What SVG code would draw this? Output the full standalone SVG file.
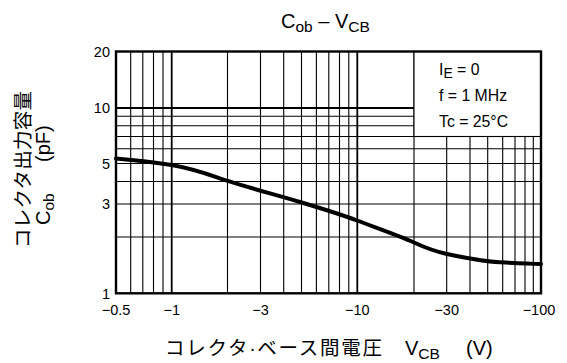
<svg xmlns="http://www.w3.org/2000/svg" width="567" height="363" viewBox="0 0 567 363">
<style>
.g{stroke:#000;stroke-width:1.1;fill:none}
.gt{stroke:#000;stroke-width:1.8;fill:none}
.t{font-family:"Liberation Sans",Arial,sans-serif;fill:#000}
.tick{font-size:14.5px}
.lab{font-size:20px}
.jp{font-family:"Noto Sans CJK JP","Liberation Sans",sans-serif;fill:#000;font-size:19.5px}
.leg{font-size:15.8px}
</style>
<rect width="567" height="363" fill="#fff"/>
<g id="grid">
<path class="g" d="M130.7,51.5V293.3M142.8,51.5V293.3M153.5,51.5V293.3M163,51.5V293.3M227.5,51.5V293.3M260.5,51.5V293.3M283.7,51.5V293.3M301.5,51.5V293.3M316.4,51.5V293.3M328.8,51.5V293.3M339.5,51.5V293.3M348.8,51.5V293.3M414,51.5V293.3M446.7,51.5V293.3M470,51.5V293.3M487.7,51.5V293.3M502.7,51.5V293.3M515,51.5V293.3M525,51.5V293.3M533.3,51.5V293.3"/>
<path class="g" d="M116,237H541M116,204H541M116,181.5H541M116,163.5H541M116,148.7H541M116,136.5H541M116,125.7H541M116,116.3H541"/>
<path class="gt" d="M171.7,51.5V293.3M357.3,51.5V293.3M116,108H541"/>
</g>
<g id="legend">
<rect x="414" y="51.5" width="127" height="85" fill="#fff" stroke="#000" stroke-width="1.1"/>
<text class="t leg" x="439" y="74.5">I<tspan font-size="14" dy="3">E</tspan><tspan dy="-3"> = 0</tspan></text>
<text class="t leg" x="439" y="100.5">f = 1 MHz</text>
<text class="t leg" x="439" y="127">Tc = 25°C</text>
</g>
<g id="frame">
<rect x="116" y="51.5" width="425" height="241.8" fill="none" stroke="#000" stroke-width="2.4"/>
</g>
<g id="curve">
<path d="M116,158.5 C140,160.5 150,161.5 171.7,165 C195,169 210,175 227,180.7 S280,196 300,202 S340,214 357,220.5 S400,236 414,242.5 S440,252.5 447,254 S485,261.5 500,262.3 S530,263.8 541,264" fill="none" stroke="#000" stroke-width="4" stroke-linecap="round"/>
</g>
<g id="yticks" class="t tick" text-anchor="end">
<text x="110" y="56.5">20</text>
<text x="110" y="113">10</text>
<text x="110" y="168.5">5</text>
<text x="110" y="209">3</text>
<text x="110" y="298.5">1</text>
</g>
<g id="xticks" class="t tick" text-anchor="middle">
<text x="116" y="315">−0.5</text>
<text x="171.7" y="315">−1</text>
<text x="260.5" y="315">−3</text>
<text x="357.3" y="315">−10</text>
<text x="446.7" y="315">−30</text>
<text x="539" y="315">−100</text>
</g>
<g id="title">
<text class="t lab" x="281" y="28">C<tspan font-size="15.5" dy="4">ob</tspan><tspan dy="-4"> – V</tspan><tspan font-size="15.5" dy="4">CB</tspan></text>
</g>
<g id="xlabel">
<text class="jp" x="165" y="355" font-size="20.5" textLength="217" lengthAdjust="spacing">コレクタ<tspan font-family="Liberation Sans, sans-serif">·</tspan>ベース間電圧</text>
<text class="t lab" x="405" y="355">V<tspan font-size="15.5" dy="4">CB</tspan></text>
<text class="t lab" x="466" y="355">(V)</text>
</g>
<g id="ylabel">
<g transform="translate(29.5,0) rotate(-90)">
<text class="jp" x="-248" y="0" textLength="157" lengthAdjust="spacing">コレクタ出力容量</text>
</g>
<g transform="translate(50,0) rotate(-90)">
<text class="t lab" x="-225">C<tspan font-size="15.5" dy="4">ob</tspan></text>
<text class="t lab" x="-162">(pF)</text>
</g>
</g>
</svg>
